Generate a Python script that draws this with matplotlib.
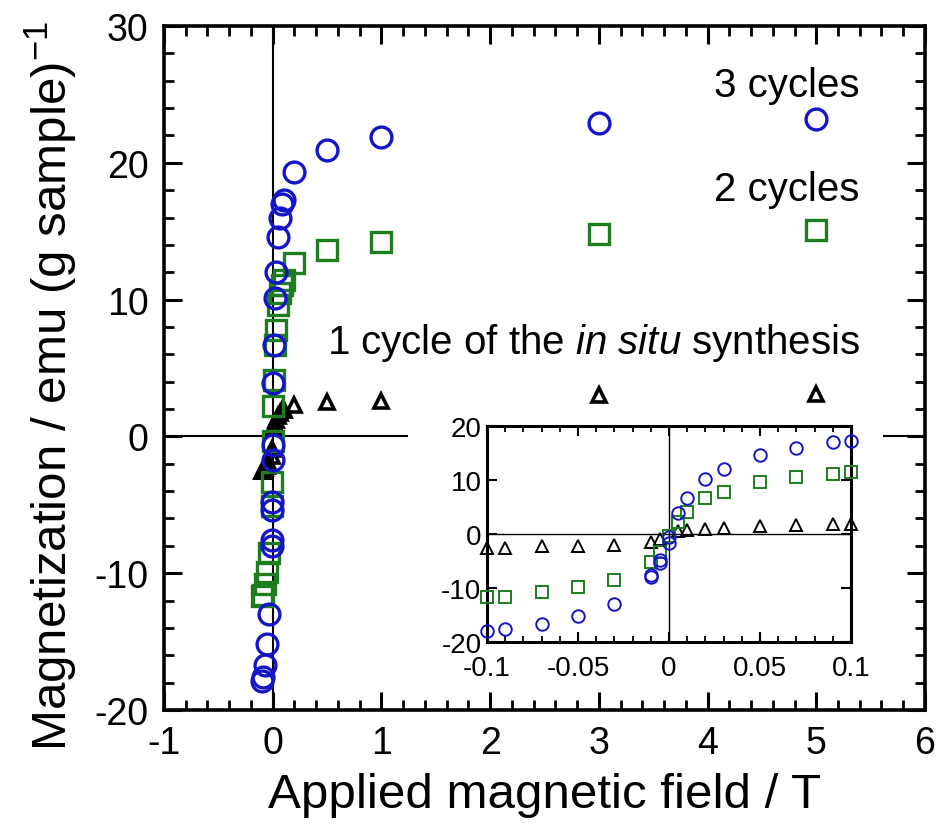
import numpy as np
import matplotlib
matplotlib.use("Agg")
from matplotlib import pyplot as plt
import matplotlib.patches as patches

plt.rcParams['font.family'] = ['Liberation Sans', 'DejaVu Sans']
plt.rcParams['mathtext.fontset'] = 'custom'
plt.rcParams['mathtext.rm'] = 'Liberation Sans'
plt.rcParams['mathtext.it'] = 'Liberation Sans:italic'
plt.rcParams['axes.unicode_minus'] = False

# 3 cycles (blue circles)
field_3 = [-0.1, -0.09, -0.07, -0.05, -0.03, -0.01, -0.01, -0.005, -0.005, 0, 0,
           0.005, 0.01, 0.02, 0.03, 0.05, 0.07, 0.09, 0.1, 0.2, 0.5, 1, 3, 5]
mag_3 = [-17.9, -17.6, -16.7, -15.2, -13.0, -8.0, -7.6, -5.4, -4.8, -1.7, -0.6,
         3.9, 6.7, 10.1, 12.0, 14.6, 16.0, 17.0, 17.3, 19.3, 20.9, 21.9, 22.9, 23.2]

# 2 cycles (green squares)
field_2 = [-0.1, -0.09, -0.07, -0.05, -0.03, -0.01, -0.005, 0, 0.005, 0.01,
           0.02, 0.03, 0.05, 0.07, 0.09, 0.1, 0.2, 0.5, 1, 3, 5]
mag_2 = [-11.7, -11.6, -10.8, -9.9, -8.5, -5.1, -3.3, -0.3, 2.2, 4.1,
         6.7, 7.8, 9.6, 10.5, 11.1, 11.4, 12.7, 13.6, 14.2, 14.8, 15.1]

# 1 cycle (black triangles)
field_1 = [-0.1, -0.09, -0.07, -0.05, -0.03, -0.01, -0.005, 0.005, 0.01, 0.02,
           0.03, 0.05, 0.07, 0.09, 0.1, 0.2, 0.5, 1, 3, 5]
mag_1 = [-2.5, -2.5, -2.3, -2.2, -2.0, -1.4, -0.9, 0.6, 0.7, 0.9,
         1.2, 1.5, 1.7, 1.9, 1.9, 2.3, 2.5, 2.6, 3.0, 3.1]

blue = '#1414c8'
green = '#1e7d1e'

fig = plt.figure(figsize=(9.38, 8.28), dpi=100)
ax = fig.add_axes([0.1748, 0.1413, 0.8113, 0.8261])

ax.axhline(0, color='k', lw=1.5, zorder=1)
ax.axvline(0, color='k', lw=1.5, zorder=1)

ax.plot(field_1, mag_1, linestyle='none', marker='^', ms=10, mew=2.6,
        mfc='none', mec='k', zorder=3)
ax.plot(field_2, mag_2, linestyle='none', marker='s', ms=15, mew=2.4,
        mfc='none', mec=green, zorder=4)
ax.plot(field_3, mag_3, linestyle='none', marker='o', ms=15, mew=2.4,
        mfc='none', mec=blue, zorder=5)

ax.set_xlim(-1, 6)
ax.set_ylim(-20, 30)
ax.set_xticks(np.arange(-1, 7, 1))
ax.set_xticks(np.arange(-1, 6.01, 0.2), minor=True)
ax.set_yticks(np.arange(-20, 31, 10))
ax.set_yticks(np.arange(-20, 30.1, 2), minor=True)
ax.tick_params(which='both', direction='in', top=True, right=True, labelsize=27)
ax.tick_params(which='major', length=13, width=2.2, pad=11)
ax.tick_params(which='minor', length=7, width=2.0)
for sp in ax.spines.values():
    sp.set_linewidth(2.6)

ax.set_xlabel('Applied magnetic field / T', fontsize=35.5, labelpad=8)
ax.set_ylabel(r'Magnetization / emu (g sample)$^{-1}$', fontsize=35.5)
ax.yaxis.set_label_coords(-0.11, 0.475)

ax.text(5.4, 25.7, '3 cycles', fontsize=29, ha='right', va='center')
ax.text(5.4, 18.05, '2 cycles', fontsize=29, ha='right', va='center')
ax.text(5.4, 6.9, r'1 cycle of the $\mathit{in\ situ}$ synthesis', fontsize=29,
        ha='right', va='center')

# white backing behind the inset and its labels
ax.add_patch(patches.Rectangle((0.435, 0.168), 0.506, 0.337, transform=fig.transFigure,
                               facecolor='white', edgecolor='none', zorder=6,
                               clip_on=False))

# inset
ins = fig.add_axes([0.5192, 0.2234, 0.388, 0.2609])
ins.axhline(0, color='k', lw=1.0, zorder=1)
ins.axvline(0, color='k', lw=1.0, zorder=1)
for fx, my, mk, col, ms in [(field_1, mag_1, '^', 'k', 8),
                            (field_2, mag_2, 's', green, 9),
                            (field_3, mag_3, 'o', blue, 9)]:
    fx = np.array(fx)
    my = np.array(my)
    keep = np.abs(fx) <= 0.1001
    ins.plot(fx[keep], my[keep], linestyle='none', marker=mk, ms=ms, mew=1.4,
             mfc='none', mec=col, clip_on=False, zorder=3)
ins.set_xlim(-0.1, 0.1)
ins.set_ylim(-20, 20)
ins.set_xticks([-0.1, -0.05, 0, 0.05, 0.1])
ins.set_xticklabels(['-0.1', '-0.05', '0', '0.05', '0.1'])
ins.set_xticks(np.arange(-0.1, 0.1001, 0.01), minor=True)
ins.set_yticks([-20, -10, 0, 10, 20])
ins.tick_params(which='both', direction='in', top=True, right=True, labelsize=20)
ins.tick_params(which='major', length=7, width=1.5)
ins.tick_params(axis='x', which='major', pad=9)
ins.tick_params(axis='y', which='major', pad=4)
ins.tick_params(which='minor', length=4, width=1.3)
for sp in ins.spines.values():
    sp.set_linewidth(2.2)

fig.savefig('out.png', dpi=100)
